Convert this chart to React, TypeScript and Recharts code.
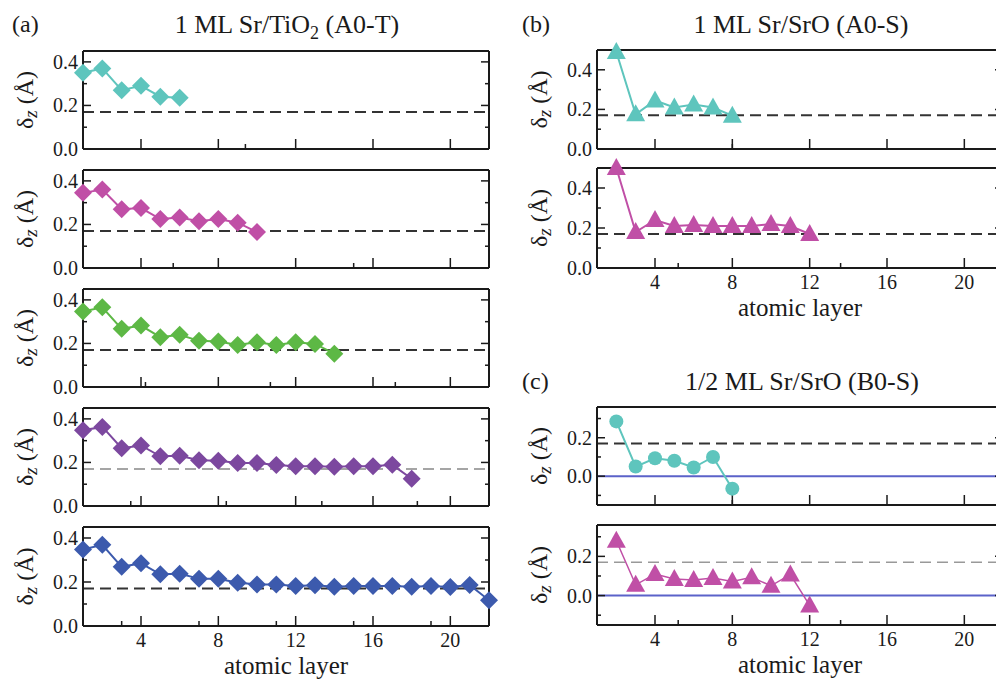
import { LineChart, Line, XAxis, YAxis, ReferenceLine, Label } from 'recharts'

const FONT = '"Liberation Serif", "Times New Roman", Times, serif'
const INK = '#1a1a1a'
const serif = { fontFamily: FONT }

// (a) 1 ML Sr/TiO2 (A0-T), layers start at 1
const tioSlab6 = [0.35, 0.37, 0.27, 0.29, 0.24, 0.235]
const tioSlab10 = [0.345, 0.36, 0.27, 0.275, 0.225, 0.232, 0.215, 0.225, 0.208, 0.165]
const tioSlab14 = [0.347, 0.366, 0.267, 0.282, 0.229, 0.24, 0.212, 0.209, 0.193, 0.206, 0.193, 0.206, 0.198, 0.153]
const tioSlab18 = [
  0.348, 0.363, 0.265, 0.278, 0.228, 0.231, 0.21, 0.208, 0.197, 0.197, 0.188, 0.183, 0.183, 0.18, 0.183, 0.183,
  0.189, 0.125,
]
const tioSlab22 = [
  0.348, 0.369, 0.269, 0.285, 0.235, 0.238, 0.215, 0.215, 0.197, 0.189, 0.189, 0.182, 0.185, 0.178, 0.182, 0.182,
  0.182, 0.178, 0.182, 0.177, 0.186, 0.117,
]

// (b) 1 ML Sr/SrO (A0-S), layers start at 2
const sroSlab8 = [0.49, 0.175, 0.245, 0.21, 0.225, 0.21, 0.168]
const sroSlab12 = [0.5, 0.18, 0.24, 0.21, 0.215, 0.21, 0.21, 0.21, 0.22, 0.21, 0.17]

// (c) 1/2 ML Sr/SrO (B0-S), layers start at 2
const halfSlab8 = [0.285, 0.05, 0.093, 0.08, 0.045, 0.1, -0.065]
const halfSlab12 = [0.28, 0.055, 0.11, 0.085, 0.08, 0.09, 0.072, 0.093, 0.05, 0.107, -0.05]

const bulkShift = 0.17

const xMajor = [4, 8, 12, 16, 20]
const xMinor = [2, 6, 10, 14, 18, 22]

const COLORS = {
  cyan: '#5ec5bd',
  magenta: '#c04fa6',
  green: '#5db845',
  purple: '#7c489f',
  blue: '#3c5aad',
  zero: '#5b62c9',
}

type Marker = 'diamond' | 'triangle' | 'circle'

const toRows = (vals: number[], first: number) => vals.map((v, i) => ({ x: first + i, v }))

function renderMarker(kind: Marker, color: string) {
  return (p: any) => {
    const { cx, cy, index } = p
    if (cx == null || cy == null) return <g key={`m-${index}`} />
    if (kind === 'diamond') {
      const r = 9
      return (
        <polygon
          key={`m-${index}`}
          points={`${cx},${cy - r} ${cx + r},${cy} ${cx},${cy + r} ${cx - r},${cy}`}
          fill={color}
        />
      )
    }
    if (kind === 'triangle') {
      return (
        <polygon
          key={`m-${index}`}
          points={`${cx},${cy - 10} ${cx + 9.5},${cy + 7} ${cx - 9.5},${cy + 7}`}
          fill={color}
        />
      )
    }
    return <circle key={`m-${index}`} cx={cx} cy={cy} r={7} fill={color} />
  }
}

// tick labels drawn by hand so the serif face sticks
const xTickLabel = (p: any) => (
  <text x={p.x} y={p.y + 14} textAnchor="middle" fontSize={20} fill={INK} style={serif}>
    {p.payload.value}
  </text>
)
const yTickLabel = (p: any) => (
  <text x={p.x} y={p.y + 7} textAnchor="end" fontSize={20} fill={INK} style={serif}>
    {Number(p.payload.value).toFixed(1)}
  </text>
)
const noLabel = () => <g />

interface PanelProps {
  rows: { x: number; v: number }[]
  color: string
  marker: Marker
  left: number
  width: number
  padLeft: number
  plotTop: number
  plotBottom: number
  yDomain: [number, number]
  yMajor: number[]
  yMinor: number[]
  showX?: boolean
  refColor?: string
  refWidth?: number
  zeroLine?: boolean
  lineWidth?: number
}

function Panel({
  rows,
  color,
  marker,
  left,
  width,
  padLeft,
  plotTop,
  plotBottom,
  yDomain,
  yMajor,
  yMinor,
  showX = false,
  refColor = '#333',
  refWidth = 2,
  zeroLine = false,
  lineWidth = 2,
}: PanelProps) {
  const mTop = 14
  const mBottom = 62
  const plotW = 406
  const plotH = plotBottom - plotTop
  const axisLine = { stroke: INK, strokeWidth: 2 }
  const tickLine = { stroke: INK, strokeWidth: 1.5 }

  // every axis takes 1px (0 would hide it), so the margins give that back
  return (
    <div style={{ position: 'absolute', left, top: plotTop - mTop }}>
      <LineChart
        width={width}
        height={plotH + mTop + mBottom}
        data={rows}
        margin={{ top: mTop - 1, right: width - padLeft - plotW - 2, bottom: mBottom - 2, left: padLeft - 2 }}
      >
        <XAxis
          xAxisId="x"
          dataKey="x"
          type="number"
          domain={[1, 22]}
          ticks={xMajor}
          height={1}
          tickSize={-10}
          tickMargin={17}
          axisLine={axisLine}
          tickLine={tickLine}
          tick={showX ? xTickLabel : noLabel}
        >
          {showX && (
            <Label
              content={(p: any) => {
                const vb = p.viewBox
                return (
                  <text
                    x={vb.x + vb.width / 2}
                    y={vb.y + 48}
                    textAnchor="middle"
                    fontSize={25}
                    fill={INK}
                    style={serif}
                  >
                    atomic layer
                  </text>
                )
              }}
            />
          )}
        </XAxis>
        <XAxis
          xAxisId="xm"
          type="number"
          domain={[1, 22]}
          ticks={xMinor}
          allowDataOverflow
          height={1}
          tickSize={-6}
          axisLine={false}
          tickLine={tickLine}
          tick={noLabel}
        />
        <XAxis
          xAxisId="xt"
          type="number"
          orientation="top"
          domain={[1, 22]}
          allowDataOverflow
          height={1}
          axisLine={axisLine}
          tickLine={false}
          tick={noLabel}
        />
        <YAxis
          yAxisId="y"
          type="number"
          domain={yDomain}
          ticks={yMajor}
          width={1}
          tickSize={-8}
          tickMargin={13}
          axisLine={axisLine}
          tickLine={tickLine}
          tick={yTickLabel}
        >
          <Label
            content={(p: any) => {
              const vb = p.viewBox
              const cx = vb.x + vb.width - 58
              const cy = vb.y + vb.height / 2
              return (
                <text
                  x={cx}
                  y={cy + 8}
                  transform={`rotate(-90, ${cx}, ${cy})`}
                  textAnchor="middle"
                  fontSize={24}
                  fill={INK}
                  style={serif}
                >
                  δ
                  <tspan fontStyle="italic" fontSize={19} dy={4}>
                    z
                  </tspan>
                  <tspan dy={-4}> (Å)</tspan>
                </text>
              )
            }}
          />
        </YAxis>
        <YAxis
          yAxisId="ym"
          type="number"
          domain={yDomain}
          ticks={yMinor}
          allowDataOverflow
          width={1}
          tickSize={-5}
          axisLine={false}
          tickLine={tickLine}
          tick={noLabel}
        />
        <YAxis
          yAxisId="yr"
          type="number"
          orientation="right"
          domain={yDomain}
          ticks={yMajor}
          allowDataOverflow
          width={1}
          tickSize={-8}
          axisLine={axisLine}
          tickLine={tickLine}
          tick={noLabel}
        />
        <YAxis
          yAxisId="yrm"
          type="number"
          orientation="right"
          domain={yDomain}
          ticks={yMinor}
          allowDataOverflow
          width={1}
          tickSize={-5}
          axisLine={false}
          tickLine={tickLine}
          tick={noLabel}
        />
        {zeroLine && (
          <ReferenceLine xAxisId="x" yAxisId="y" y={0} stroke={COLORS.zero} strokeWidth={2} />
        )}
        <ReferenceLine
          xAxisId="x"
          yAxisId="y"
          y={bulkShift}
          stroke={refColor}
          strokeWidth={refWidth}
          strokeDasharray="11 6"
        />
        <Line
          xAxisId="x"
          yAxisId="y"
          dataKey="v"
          type="linear"
          stroke={color}
          strokeWidth={lineWidth}
          dot={renderMarker(marker, color)}
          activeDot={false}
          isAnimationActive={false}
        />
      </LineChart>
    </div>
  )
}

const leftCol = { left: 0, width: 500, padLeft: 83 }
const rightCol = { left: 500, width: 520, padLeft: 97 }
const aTicks = { yDomain: [0, 0.45] as [number, number], yMajor: [0, 0.2, 0.4], yMinor: [0.1, 0.3] }
const bTicks = { yDomain: [0, 0.5] as [number, number], yMajor: [0, 0.2, 0.4], yMinor: [0.1, 0.3] }
const cTicks = { yDomain: [-0.15, 0.36] as [number, number], yMajor: [0, 0.2], yMinor: [-0.1, 0.1, 0.3] }

export default function App() {
  return (
    <div
      style={{
        position: 'absolute',
        left: 0,
        top: 0,
        width: 996,
        height: 679,
        overflow: 'hidden',
        background: '#fff',
        fontFamily: FONT,
      }}
    >
      <Panel rows={toRows(tioSlab6, 1)} color={COLORS.cyan} marker="diamond" {...leftCol} {...aTicks} plotTop={51} plotBottom={149} />
      <Panel rows={toRows(tioSlab10, 1)} color={COLORS.magenta} marker="diamond" {...leftCol} {...aTicks} plotTop={170} plotBottom={268} />
      <Panel rows={toRows(tioSlab14, 1)} color={COLORS.green} marker="diamond" {...leftCol} {...aTicks} plotTop={289} plotBottom={387} />
      <Panel
        rows={toRows(tioSlab18, 1)}
        color={COLORS.purple}
        marker="diamond"
        {...leftCol}
        {...aTicks}
        plotTop={408}
        plotBottom={506}
        refColor="#888"
        refWidth={1.4}
      />
      <Panel rows={toRows(tioSlab22, 1)} color={COLORS.blue} marker="diamond" {...leftCol} {...aTicks} plotTop={527} plotBottom={626} showX />

      <Panel rows={toRows(sroSlab8, 2)} color={COLORS.cyan} marker="triangle" {...rightCol} {...bTicks} plotTop={50} plotBottom={149} />
      <Panel rows={toRows(sroSlab12, 2)} color={COLORS.magenta} marker="triangle" {...rightCol} {...bTicks} plotTop={168} plotBottom={268} showX />

      <Panel rows={toRows(halfSlab8, 2)} color={COLORS.cyan} marker="circle" {...rightCol} {...cTicks} plotTop={407} plotBottom={505} zeroLine />
      <Panel
        rows={toRows(halfSlab12, 2)}
        color={COLORS.magenta}
        marker="triangle"
        {...rightCol}
        {...cTicks}
        plotTop={525}
        plotBottom={625}
        zeroLine
        showX
        refColor="#999"
        refWidth={1.5}
        lineWidth={1.5}
      />

      <svg width={996} height={679} style={{ position: 'absolute', left: 0, top: 0, pointerEvents: 'none' }}>
        <g fill={INK} style={serif}>
          <text x={12} y={32} fontSize={24}>(a)</text>
          <text x={287} y={33} fontSize={26} textAnchor="middle">
            1 ML Sr/TiO
            <tspan fontSize={18} dy={6}>2</tspan>
            <tspan dy={-6}> (A0-T)</tspan>
          </text>
          <text x={522} y={32} fontSize={24}>(b)</text>
          <text x={801} y={33} fontSize={26} textAnchor="middle">1 ML Sr/SrO (A0-S)</text>
          <text x={522} y={389} fontSize={24}>(c)</text>
          <text x={802} y={390} fontSize={26} textAnchor="middle">1/2 ML Sr/SrO (B0-S)</text>
        </g>
      </svg>
    </div>
  )
}
